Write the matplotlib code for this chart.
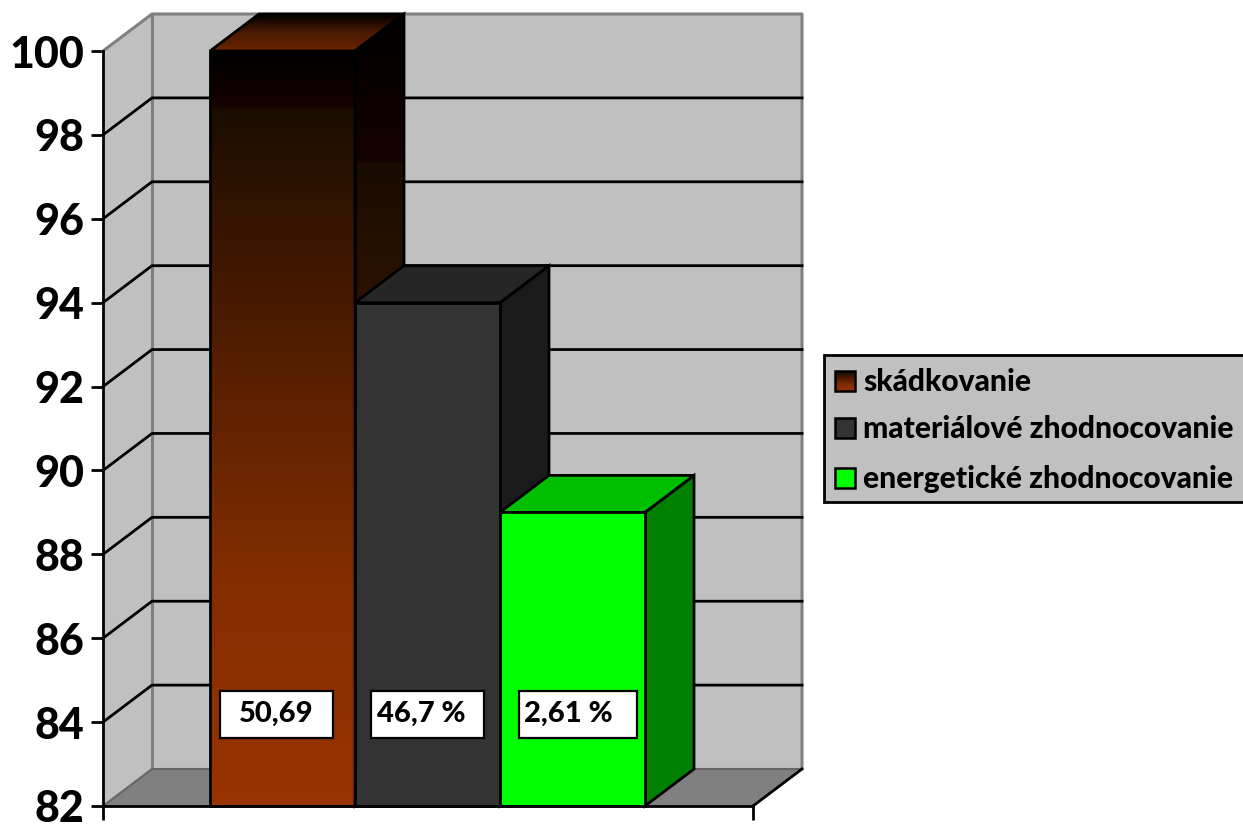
import numpy as np
import matplotlib
matplotlib.use('Agg')
import matplotlib.pyplot as plt
from matplotlib.colors import LinearSegmentedColormap
from matplotlib.patches import Polygon, Rectangle

plt.rcParams['font.family'] = ['Lato', 'DejaVu Sans']
plt.rcParams['font.weight'] = 900

# data
categories = ['skádkovanie', 'materiálové zhodnocovanie', 'energetické zhodnocovanie']
values = [100, 94, 89]
bar_labels = ['50,69', '46,7 %', '2,61 %']
y_ticks = [82, 84, 86, 88, 90, 92, 94, 96, 98, 100]

W, H = 1243, 824
LW = 2.0
DX, DY = 0.338, 0.882  # depth of the fake 3d

front_cols = ['#333333', '#00ff00']
top_cols = ['#262626', '#00bf00']
side_cols = ['#1a1a1a', '#008000']

brown = LinearSegmentedColormap.from_list('brown', [(0, '#000000'), (0.07, '#150000'), (0.075, '#1a0d00'),
                                                    (0.34, '#4a1a00'), (0.7, '#832d00'), (1, '#993300')])
brown_side = LinearSegmentedColormap.from_list('side', [(0, '#000000'), (0.5, '#150000'), (0.52, '#190c00'), (1, '#2c1200')])
brown_top = LinearSegmentedColormap.from_list('top', [(0, '#000000'), (0.5, '#4a1a00'), (1, '#6b2400')])

fig = plt.figure(figsize=(W / 100, H / 100), dpi=100)
ax = fig.add_axes([103 / W, (H - 806) / H, 650 / W, 755 / H])
ax.patch.set_visible(False)
xmin, xmax = -0.738, 3.745
ymin, ymax = 82, 100


def poly(pts, **kw):
    p = Polygon(pts, closed=True, clip_on=False, **kw)
    ax.add_patch(p)
    return p


def gradient(cmap, pts, y0, y1):
    # vertical gradient clipped to a polygon
    x = [p[0] for p in pts]
    g = np.linspace(0, 1, 256).reshape(-1, 1)
    im = ax.imshow(g, cmap=cmap, aspect='auto', extent=[min(x), max(x), y0, y1], origin='upper', zorder=3, vmin=0, vmax=1)
    im.set_clip_box(fig.bbox)
    im.set_clip_path(Polygon(pts, closed=True, transform=ax.transData))


# walls and floor
poly([(xmin, ymin), (xmin + DX, ymin + DY), (xmin + DX, ymax + DY), (xmin, ymax)], fc='#c0c0c0', ec='none', zorder=1)
poly([(xmin + DX, ymin + DY), (xmax + DX, ymin + DY), (xmax + DX, ymax + DY), (xmin + DX, ymax + DY)],
     fc='#c0c0c0', ec='none', zorder=1)
poly([(xmin, ymin), (xmax, ymin), (xmax + DX, ymin + DY), (xmin + DX, ymin + DY)], fc='#808080', ec='none', zorder=1)

grey = dict(color='#808080', lw=2.2, clip_on=False, zorder=2, solid_capstyle='round')
ax.plot([xmin, xmin + DX, xmax + DX, xmax + DX], [ymax, ymax + DY, ymax + DY, ymin + DY], **grey)
ax.plot([xmin + DX, xmin + DX], [ymin + DY, ymax + DY], **grey)
ax.plot([xmin, xmin + DX, xmax + DX], [ymin, ymin + DY, ymin + DY], color='#666666', lw=1.5, clip_on=False, zorder=2)

for t in y_ticks[1:-1]:
    ax.plot([xmin, xmin + DX, xmax + DX], [t, t + DY, t + DY], color='black', lw=LW, clip_on=False, zorder=2)
ax.plot([xmax, xmax + DX], [ymin, ymin + DY], color='black', lw=LW, clip_on=False, zorder=2)

# left bar first, the faces of the next bar lie over its side
for i, v in enumerate(values):
    top = [(i, v), (i + 1, v), (i + 1 + DX, v + DY), (i + DX, v + DY)]
    side = [(i + 1, ymin), (i + 1 + DX, ymin + DY), (i + 1 + DX, v + DY), (i + 1, v)]
    if i == 0:
        ax.bar(i, v - ymin, bottom=ymin, width=1, align='edge', color='none', ec='black', lw=LW, clip_on=False, zorder=4)
        gradient(brown, [(i, ymin), (i + 1, ymin), (i + 1, v), (i, v)], ymin, v)
        gradient(brown_top, top, v, v + DY)
        gradient(brown_side, side, 94, v + DY)
        poly(top, fc='none', ec='black', lw=LW, zorder=3.1)
        poly(side, fc='none', ec='black', lw=LW, zorder=3.1)
    else:
        poly(side, fc=side_cols[i - 1], ec='black', lw=LW, zorder=3.2 + i * 0.1)
        poly(top, fc=top_cols[i - 1], ec='black', lw=LW, zorder=3.2 + i * 0.1)
        ax.bar(i, v - ymin, bottom=ymin, width=1, align='edge', color=front_cols[i - 1], ec='black', lw=LW,
               clip_on=False, zorder=4)

ax.set_xlim(xmin, xmax)
ax.set_ylim(ymin, ymax)
ax.set_xticks([xmin, xmax])
ax.set_xticklabels([])
ax.set_yticks(y_ticks)
ax.tick_params(axis='y', length=8.6, width=LW, pad=5, labelsize=31)
ax.tick_params(axis='x', length=10, width=LW)
for lab in ax.get_yticklabels():
    lab.set_verticalalignment('center_baseline')
for s in ['top', 'right']:
    ax.spines[s].set_visible(False)
for s in ['left', 'bottom']:
    ax.spines[s].set_linewidth(LW)
    ax.spines[s].set_zorder(5)

# value boxes and legend sit in pixel coords on an overlay
ov = fig.add_axes([0, 0, 1, 1])
ov.set_xlim(0, W)
ov.set_ylim(H, 0)
ov.axis('off')

boxes = [(220, 333, 276.5, 'center'), (371, 484, 377, 'left'), (519, 637, 524, 'left')]
for (x0, x1, tx, ha), lab in zip(boxes, bar_labels):
    ov.add_patch(Rectangle((x0, 691), x1 - x0, 47, fc='white', ec='black', lw=1.6))
    ov.text(tx, 714, lab, ha=ha, va='center', fontsize=21, color='black')

ov.add_patch(Rectangle((824, 355), 425, 147, fc='#c0c0c0', ec='black', lw=LW, clip_on=True))
ys = [381, 428, 478]
for k, (yy, name) in enumerate(zip(ys, categories)):
    if k == 0:
        g = np.linspace(0, 1, 64).reshape(-1, 1)
        ov.imshow(g, cmap=brown, aspect='auto', extent=[835, 855, yy + 10, yy - 10], origin='upper', zorder=2, vmin=0, vmax=1)
        ov.add_patch(Rectangle((835, yy - 10), 20, 20, fc='none', ec='black', lw=1.8, zorder=3))
    else:
        ov.add_patch(Rectangle((835, yy - 10), 20, 20, fc=front_cols[k - 1], ec='black', lw=1.8, zorder=3))
    ov.text(863, yy + 1, name, ha='left', va='center', fontsize=21.6, color='black', zorder=3)
ov.set_xlim(0, W)
ov.set_ylim(H, 0)

fig.savefig('out.png', dpi=100)
